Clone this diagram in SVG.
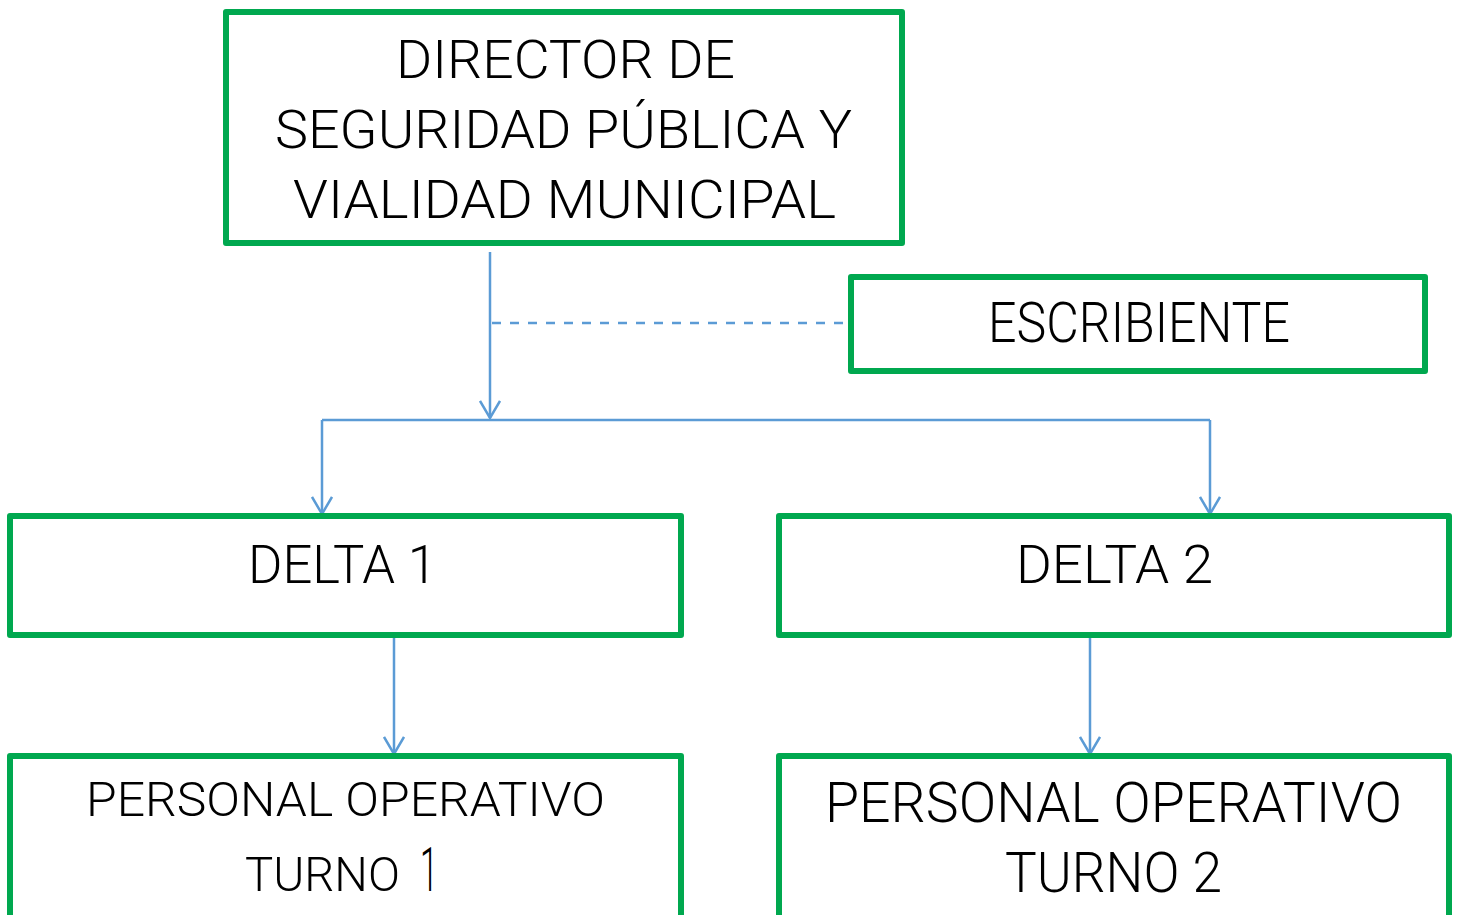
<svg xmlns="http://www.w3.org/2000/svg" width="1459" height="915" viewBox="0 0 1459 915">
<style>
.box{fill:#fff;stroke:#00A84F;stroke-width:6;stroke-linejoin:round}
.t{font-family:Roboto,"Liberation Sans",Arial,sans-serif;font-weight:300;fill:#000;text-anchor:start}
.c{fill:none;stroke:#5B9BD5;stroke-width:2.5}
.d{fill:none;stroke:#5B9BD5;stroke-width:2.5;stroke-dasharray:9,9}
</style>
<defs>
<marker id="ah" viewBox="-1 -11 20 22" refX="17" refY="0" markerWidth="20" markerHeight="22" markerUnits="userSpaceOnUse" orient="auto">
<path d="M0,-10 L17,0 L0,10" fill="none" stroke="#5B9BD5" stroke-width="2.5"/>
</marker>
</defs>
<rect width="1459" height="915" fill="#fff"/>
<g id="connectors">
<line class="c" x1="490" y1="252" x2="490" y2="418" marker-end="url(#ah)"/>
<line class="d" x1="492" y1="323" x2="848" y2="323"/>
<polyline class="c" points="322,420 1210,420"/>
<line class="c" x1="322" y1="420" x2="322" y2="514" marker-end="url(#ah)"/>
<line class="c" x1="1210" y1="420" x2="1210" y2="514" marker-end="url(#ah)"/>
<line class="c" x1="394" y1="637" x2="394" y2="754" marker-end="url(#ah)"/>
<line class="c" x1="1090" y1="637" x2="1090" y2="754" marker-end="url(#ah)"/>
</g>
<g id="director">
<rect class="box" x="226" y="12" width="676" height="231"/>
<text class="t" font-size="53" x="396" y="78" textLength="339" lengthAdjust="spacingAndGlyphs">DIRECTOR DE</text>
<text class="t" font-size="53" x="275" y="148" textLength="577" lengthAdjust="spacingAndGlyphs">SEGURIDAD PÚBLICA Y</text>
<text class="t" font-size="53" x="293" y="218" textLength="543" lengthAdjust="spacingAndGlyphs">VIALIDAD MUNICIPAL</text>
</g>
<g id="escribiente">
<rect class="box" x="851" y="277" width="574" height="94"/>
<text class="t" font-size="55" x="988" y="342" textLength="302" lengthAdjust="spacingAndGlyphs">ESCRIBIENTE</text>
</g>
<g id="delta1">
<rect class="box" x="10" y="516" width="671" height="119"/>
<text class="t" font-size="54" x="248" y="583" textLength="189" lengthAdjust="spacingAndGlyphs">DELTA 1</text>
</g>
<g id="delta2">
<rect class="box" x="779" y="516" width="670" height="119"/>
<text class="t" font-size="54" x="1016" y="583" textLength="197" lengthAdjust="spacingAndGlyphs">DELTA 2</text>
</g>
<g id="personal1">
<rect class="box" x="10" y="756" width="671" height="200"/>
<text class="t" font-size="49" x="86" y="816" textLength="519" lengthAdjust="spacingAndGlyphs">PERSONAL OPERATIVO</text>
<text class="t" font-size="49" x="245" y="891" textLength="155" lengthAdjust="spacingAndGlyphs">TURNO</text>
<text class="t" font-size="61" x="420" y="891" textLength="18" lengthAdjust="spacingAndGlyphs">1</text>
</g>
<g id="personal2">
<rect class="box" x="779" y="756" width="670" height="200"/>
<text class="t" font-size="55" x="825" y="822" textLength="577" lengthAdjust="spacingAndGlyphs">PERSONAL OPERATIVO</text>
<text class="t" font-size="55" x="1005" y="892" textLength="217" lengthAdjust="spacingAndGlyphs">TURNO 2</text>
</g>
</svg>
